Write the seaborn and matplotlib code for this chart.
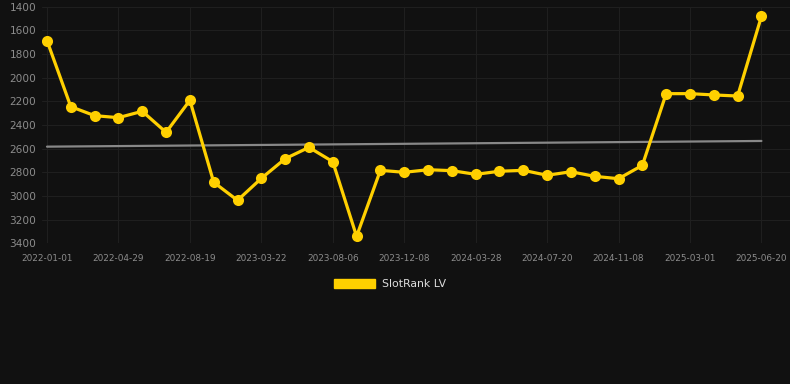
import numpy as np
import pandas as pd
import seaborn as sns
import matplotlib.pyplot as plt
from matplotlib.patches import Patch

dates = ['2022-01-01', '2022-02-09', '2022-03-21', '2022-04-29', '2022-06-05', '2022-07-12',
         '2022-08-19', '2022-10-30', '2023-01-10', '2023-03-22', '2023-04-30', '2023-06-18',
         '2023-08-06', '2023-09-15', '2023-10-28', '2023-12-08', '2024-01-14', '2024-02-20',
         '2024-03-28', '2024-05-05', '2024-06-12', '2024-07-20', '2024-08-27', '2024-10-01',
         '2024-11-08', '2024-12-20', '2025-01-25', '2025-03-01', '2025-04-06', '2025-05-13',
         '2025-06-20']
rank = [1687, 2245, 2321, 2338, 2284, 2462, 2191, 2884, 3037, 2851, 2685, 2589, 2710, 3341,
        2783, 2800, 2778, 2786, 2817, 2791, 2783, 2825, 2795, 2834, 2854, 2741, 2135, 2135,
        2146, 2155, 1482]
trend = [2583, 2535]
y_ticks = [1400, 1600, 1800, 2000, 2200, 2400, 2600, 2800, 3000, 3200, 3400]

bg = '#111111'
yellow = '#FFD000'
grid = '#1f1f1f'

df = pd.DataFrame({'idx': range(len(dates)), 'date': dates, 'rank': rank})
trend_df = pd.DataFrame({'idx': [0, len(dates) - 1], 'rank': trend})

sns.set_theme(style='dark')
fig = plt.figure(figsize=(7.9, 3.84), dpi=100, facecolor=bg)
ax = fig.add_axes([42 / 790, 1 - 243.3 / 384, 1 - 42 / 790, (243.3 - 6.7) / 384])
ax.set_facecolor(bg)

sns.lineplot(data=trend_df, x='idx', y='rank', ax=ax, color='#888888', linewidth=1.6)
sns.lineplot(data=df, x='idx', y='rank', ax=ax, color=yellow, linewidth=2.3,
             marker='o', markersize=8, markeredgewidth=0, markeredgecolor=yellow)

ax.set_ylim(3400, 1400)
ax.set_yticks(y_ticks)
ax.set_xlim(-0.21, 31.2)
tick_idx = list(range(0, len(dates), 3))
ax.set_xticks(tick_idx)
ax.set_xticklabels([dates[i] for i in tick_idx])
ax.set_xlabel('')
ax.set_ylabel('')

ax.grid(True, color=grid, linewidth=0.8)
for s in ax.spines.values():
    s.set_visible(False)
ax.tick_params(axis='y', colors='#8c8c8c', labelsize=7.6, length=0, pad=4)
ax.tick_params(axis='x', colors=grid, labelsize=6.4, length=5, width=0.8, pad=3,
               labelcolor='#8c8c8c')

handle = Patch(facecolor=yellow, edgecolor=yellow, label='SlotRank LV')
leg = fig.legend(handles=[handle], loc='center', bbox_to_anchor=(390 / 790, 1 - 284 / 384),
                 frameon=False, fontsize=7.8, handlelength=3.8, handleheight=0.95,
                 handletextpad=0.7)
for t in leg.get_texts():
    t.set_color('#dddddd')

fig.savefig('out.png', dpi=100, facecolor=bg)
